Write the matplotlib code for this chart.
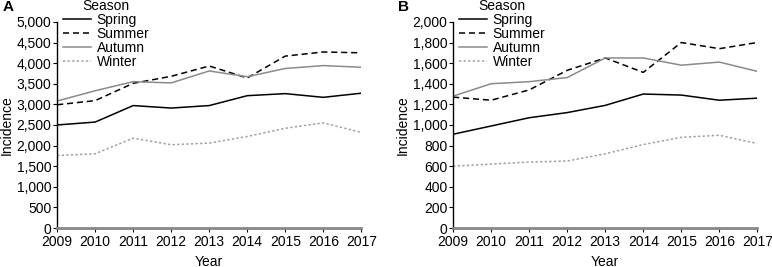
import matplotlib
matplotlib.use('Agg')
import matplotlib.pyplot as plt
from matplotlib.ticker import FuncFormatter

years = [2009, 2010, 2011, 2012, 2013, 2014, 2015, 2016, 2017]

# panel A
a_spring = [2500, 2570, 2970, 2910, 2970, 3210, 3260, 3170, 3270]
a_summer = [2990, 3090, 3510, 3680, 3930, 3640, 4170, 4270, 4250]
a_autumn = [3080, 3330, 3550, 3520, 3810, 3670, 3870, 3940, 3900]
a_winter = [1760, 1800, 2180, 2020, 2060, 2220, 2420, 2550, 2320]

# panel B
b_spring = [910, 990, 1070, 1120, 1190, 1300, 1290, 1240, 1260]
b_summer = [1270, 1240, 1340, 1530, 1650, 1510, 1800, 1740, 1800]
b_autumn = [1280, 1400, 1420, 1460, 1650, 1650, 1580, 1610, 1520]
b_winter = [600, 620, 640, 650, 720, 810, 880, 900, 820]

plt.rcParams['font.family'] = ['Liberation Sans', 'DejaVu Sans']
plt.rcParams['font.size'] = 10

fig = plt.figure(figsize=(7.72, 2.67), dpi=100)
axA = fig.add_axes([0.074, 0.146, 0.394, 0.772])
axB = fig.add_axes([0.587, 0.146, 0.394, 0.772])


def draw(ax, spring, summer, autumn, winter, ymax, step, letter):
    ax.plot(years, spring, color='black', lw=1.1, label='Spring')
    ax.plot(years, summer, color='black', lw=1.1, ls=(0, (4, 2.5)), label='Summer')
    ax.plot(years, autumn, color='#8a8a8a', lw=1.1, label='Autumn')
    ax.plot(years, winter, color='#a0a0a0', lw=1.1, ls=(0, (1.5, 1.5)), label='Winter')
    ax.set_xlim(2009, 2017)
    ax.set_ylim(0, ymax)
    ax.set_xticks(years)
    ax.set_yticks(range(0, ymax + 1, step))
    ax.yaxis.set_major_formatter(FuncFormatter(lambda v, p: f'{int(v):,}'))
    for s in ['top', 'right']:
        ax.spines[s].set_visible(False)
    ax.spines['bottom'].set_color('#888888')
    ax.spines['bottom'].set_linewidth(2)
    ax.spines['left'].set_linewidth(1)
    ax.tick_params(axis='y', length=3, width=0.8, pad=1)
    ax.tick_params(axis='x', length=3, width=0.8, pad=2)
    ax.set_xlabel('Year', labelpad=4)
    ax.set_ylabel('Incidence', labelpad=2)
    leg = ax.legend(title='Season', loc='upper left', bbox_to_anchor=(0.02, 1.11),
                    frameon=False, handlelength=2.0, handletextpad=0.4,
                    labelspacing=0.0, borderaxespad=0, borderpad=0)
    leg.get_title().set_fontsize(10)
    ax.text(-0.18, 1.07, letter, transform=ax.transAxes, fontsize=11,
            fontweight='bold', va='center', ha='left')


draw(axA, a_spring, a_summer, a_autumn, a_winter, 5000, 500, 'A')
draw(axB, b_spring, b_summer, b_autumn, b_winter, 2000, 200, 'B')

fig.savefig('out.png', dpi=100)
